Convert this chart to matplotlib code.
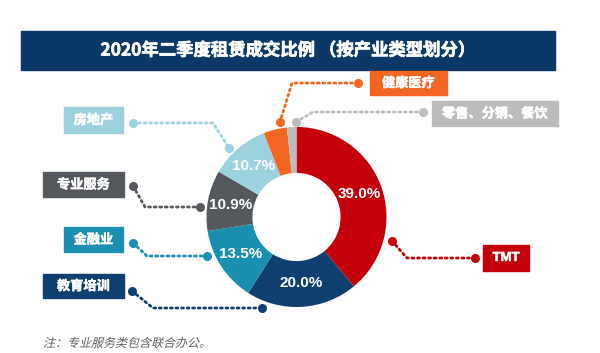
import numpy as np
import matplotlib.pyplot as plt
from matplotlib.patches import Rectangle, PathPatch
from matplotlib.textpath import TextPath
from matplotlib.font_manager import FontProperties
from matplotlib.transforms import Affine2D
import matplotlib.patheffects as pe

plt.rcParams['font.family'] = ['Noto Sans CJK SC', 'DejaVu Sans']

# 数据
categories = ['TMT', '教育培训', '金融业', '专业服务', '房地产', '健康医疗', '零售、分销、餐饮']
shares = [39.0, 20.0, 13.5, 10.9, 10.7, 4.2, 1.7]
colors = ['#c4000a', '#0f3f6e', '#1a8fb0', '#55595d', '#9dd1de', '#f26522', '#bcbcbc']
title = '2020年二季度租赁成交比例 （按产业类型划分）'
note = '注：专业服务类包含联合办公。'

# 标签布局（像素坐标）：文字框 (x0, y0, x1, y1)，折线点列
label_boxes = {
    'TMT': (483, 245, 529, 271),
    '教育培训': (43, 274, 124, 298),
    '金融业': (64, 227, 123, 252),
    '专业服务': (43, 172, 124, 197),
    '房地产': (64, 107, 123, 133),
    '健康医疗': (370, 71, 447, 95),
    '零售、分销、餐饮': (432, 101, 558, 126),
}
leader_paths = {
    'TMT': [(475, 258), (407, 258), (392, 241)],
    '教育培训': [(132, 291), (153, 308), (262, 308)],
    '金融业': [(133, 243), (147, 256), (207, 256)],
    '专业服务': [(133, 186), (145, 207), (200, 207)],
    '房地产': [(133, 123), (213, 123), (229, 148)],
    '健康医疗': [(358, 83), (292, 83), (280, 122)],
    '零售、分销、餐饮': [(423, 112), (313, 112), (296, 122)],
}

W, H = 600, 353
fig = plt.figure(figsize=(6, 3.53), dpi=100)
ax = fig.add_axes([0, 0, 1, 1])

cx, cy, R = 296.5, 217, 90

def pct_label(p):
    return '%.1f%%' % p if p >= 5 else ''

wedges, texts, autotexts = ax.pie(
    shares, colors=colors, center=(cx, cy), radius=R,
    startangle=-90, counterclock=True,
    wedgeprops=dict(width=R * 0.51, edgecolor='none'),
    autopct=pct_label, pctdistance=0.74,
    textprops=dict(color='white', fontsize=11, fontweight='bold',
                   family=['Liberation Sans', 'DejaVu Sans']))

ax.set_xlim(0, W)
ax.set_ylim(H, 0)
ax.set_aspect('equal')
ax.axis('off')

# 标题栏
ax.add_patch(Rectangle((21, 31), 534, 39, color='#0b3866', zorder=1))
ax.text(288, 50.5, title, color='white', fontsize=12.5, fontweight='bold',
        ha='center', va='center',
        path_effects=[pe.withStroke(linewidth=0.5, foreground='white')])

# 标签与引线
for name, col in zip(categories, colors):
    x0, y0, x1, y1 = label_boxes[name]
    ax.add_patch(Rectangle((x0, y0), x1 - x0, y1 - y0, color=col, zorder=3))
    fam = ['Liberation Sans', 'DejaVu Sans'] if name == 'TMT' else ['Noto Sans CJK SC', 'DejaVu Sans']
    ax.text((x0 + x1) / 2, (y0 + y1) / 2, name, color='white', fontsize=9.5,
            fontweight='bold', ha='center', va='center', zorder=4, family=fam,
            path_effects=[pe.withStroke(linewidth=0.35, foreground='white')])
    pts = np.array(leader_paths[name])
    ax.plot(pts[:, 0], pts[:, 1], color=col, lw=2.0, linestyle=(0, (0.7, 1.3)),
            dash_capstyle='round', zorder=2)
    ax.plot(pts[[0, -1], 0], pts[[0, -1], 1], 'o', color=col, ms=6.5, mec='none', zorder=3)

# 注释（CJK 字体无斜体，用错切变换模拟）
tp = TextPath((0, 0), note, size=12, prop=FontProperties(family='Noto Sans CJK SC'))
tr = Affine2D().skew_deg(14, 0).scale(1, -1).translate(43, 347)
ax.add_patch(PathPatch(tr.transform_path(tp), color='#606060', lw=0, zorder=4))

fig.savefig('out.png', dpi=100, facecolor='white')
